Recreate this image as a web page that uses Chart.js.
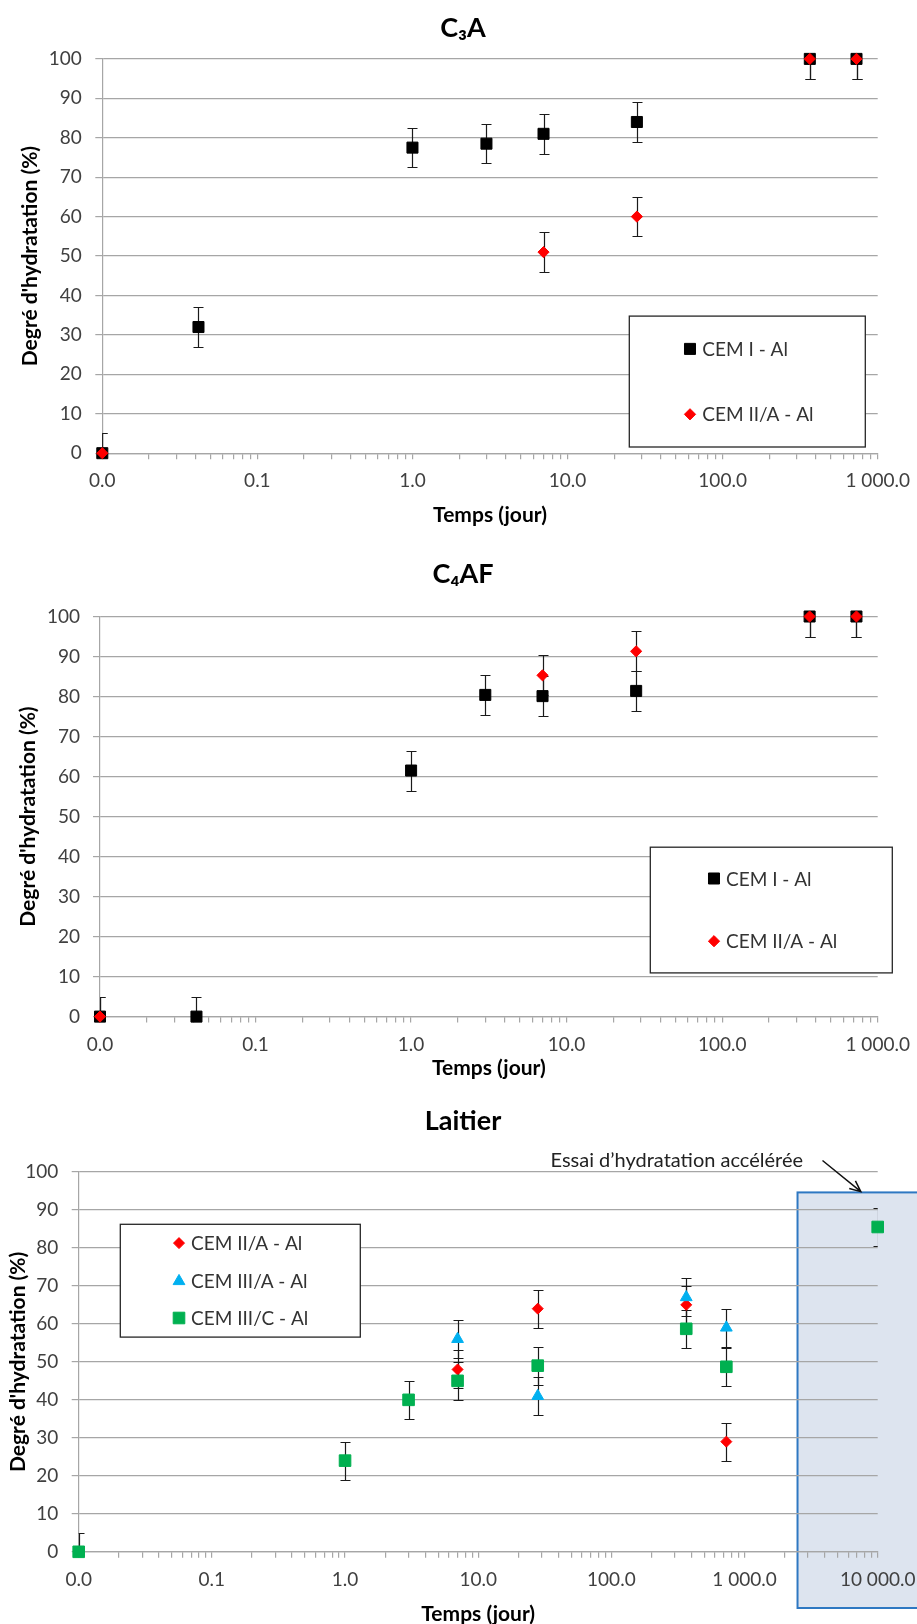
<!DOCTYPE html>
<html>
<head>
<meta charset="utf-8">
<script src="https://cdn.jsdelivr.net/npm/chart.js@4.4.1/dist/chart.umd.min.js"></script>
<style>
html, body { margin: 0; padding: 0; background: #ffffff; }
#wrap { position: relative; width: 917px; height: 1624px; overflow: hidden; background: #ffffff; }
#wrap canvas { position: absolute; left: 0; }
</style>
</head>
<body>
<div id="wrap">
  <canvas id="c1" width="917" height="540" style="top:0px"></canvas>
  <canvas id="c2" width="917" height="540" style="top:540px"></canvas>
  <canvas id="c3" width="917" height="544" style="top:1080px"></canvas>
</div>
<script>
// ---------------- DATA ----------------
const X_TICK_VALUES = [0.01, 0.1, 1, 10, 100, 1000];
const X_TICK_LABELS = ['0.0', '0.1', '1.0', '10.0', '100.0', '1 000.0'];
const X_TICK_VALUES_LAITIER = [0.01, 0.1, 1, 10, 100, 1000, 10000];
const X_TICK_LABELS_LAITIER = ['0.0', '0.1', '1.0', '10.0', '100.0', '1 000.0', '10 000.0'];
const Y_MIN = 0;
const Y_MAX = 100;
const Y_STEP = 10;

const TITLES = ['C\u2083A', 'C\u2084AF', 'Laitier'];
const X_TITLE = 'Temps (jour)';
const Y_TITLE = "Degré d'hydratation (%)";
const SERIES_NAMES = ['CEM I - Al', 'CEM II/A - Al', 'CEM III/A - Al', 'CEM III/C - Al'];
const CALLOUT_TEXT = 'Essai d\u2019hydratation accélérée';

// C3A
const c3aCem1Days = [0.01, 0.0417, 1, 3, 7, 28, 365, 730];
const c3aCem1Values = [0, 32, 77.5, 78.5, 81, 84, 100, 100];
const c3aCem1Errors = [5, 5, 5, 5, 5, 5, 5, 5];
const c3aCem2Days = [0.01, 7, 28, 365, 730];
const c3aCem2Values = [0, 51, 60, 100, 100];
const c3aCem2Errors = [5, 5, 5, 5, 5];

// C4AF
const c4afCem1Days = [0.01, 0.0417, 1, 3, 7, 28, 365, 730];
const c4afCem1Values = [0, 0, 61.5, 80.4, 80.1, 81.4, 100, 100];
const c4afCem1Errors = [5, 5, 5, 5, 5, 5, 5, 5];
const c4afCem2Days = [0.01, 7, 28, 365, 730];
const c4afCem2Values = [0, 85.3, 91.3, 100, 100];
const c4afCem2Errors = [5, 5, 5, 5, 5];

// Laitier
const laitCem2aDays = [7, 28, 365, 730];
const laitCem2aValues = [48, 64, 65, 29];
const laitCem2aErrors = [5, 5, 5, 5];
const laitCem3aDays = [7, 28, 365, 730];
const laitCem3aValues = [56, 41, 67, 59];
const laitCem3aErrors = [5, 5, 5, 5];
const laitCem3cDays = [0.01, 1, 3, 7, 28, 365, 730, 10000];
const laitCem3cValues = [0, 24, 40, 45, 49, 58.7, 48.7, 85.5];
const laitCem3cErrors = [5, 5, 5, 5, 5, 5, 5, 5];

// ---------------- STYLE ----------------
const FONT = "Lato, 'Open Sans', 'Liberation Sans', sans-serif";
const GRID = '#a6a6a6';
const TICK = '#404040';
const BLACK = '#000000';
const RED = '#ff0000';
const BLUE = '#00b0f0';
const GREEN = '#00b050';

function toXY(xs, ys) { return xs.map((x, i) => ({ x: x, y: ys[i] })); }

function logTickValues(min, max) {
  const out = [];
  const e0 = Math.round(Math.log10(min)), e1 = Math.round(Math.log10(max));
  for (let e = e0; e < e1; e++) {
    for (let m = 1; m <= 9; m++) out.push(Number((m * Math.pow(10, e)).toPrecision(6)));
  }
  out.push(max);
  return out;
}

function drawMarker(ctx, style, r, x, y, color) {
  ctx.save();
  ctx.fillStyle = color; ctx.strokeStyle = color; ctx.lineWidth = 1;
  ctx.beginPath();
  if (style === 'rect') {
    const s = r * Math.SQRT1_2;
    ctx.rect(x - s, y - s, 2 * s, 2 * s);
  } else if (style === 'rectRot') {
    ctx.moveTo(x - r, y); ctx.lineTo(x, y - r); ctx.lineTo(x + r, y); ctx.lineTo(x, y + r); ctx.closePath();
  } else if (style === 'triangle') {
    ctx.moveTo(x, y - r); ctx.lineTo(x + 0.866 * r, y + 0.5 * r); ctx.lineTo(x - 0.866 * r, y + 0.5 * r); ctx.closePath();
  }
  ctx.fill(); ctx.stroke();
  ctx.restore();
}

// error bars drawn through the chart's scales, clipped to the plot area
const errorBarPlugin = {
  id: 'errorBars',
  beforeDatasetsDraw(chart) {
    const ctx = chart.ctx, a = chart.chartArea, xs = chart.scales.x, ys = chart.scales.y;
    ctx.save();
    ctx.beginPath();
    ctx.rect(a.left, a.top, a.right - a.left, a.bottom - a.top);
    ctx.clip();
    ctx.strokeStyle = '#1a1a1a';
    ctx.lineWidth = 1.2;
    chart.data.datasets.forEach(ds => {
      if (!ds.errors) return;
      ds.data.forEach((p, i) => {
        const e = ds.errors[i];
        const px = Math.round(xs.getPixelForValue(p.x)) + 0.5;
        const yt = Math.round(ys.getPixelForValue(p.y + e)) + 0.5;
        const yb = Math.round(ys.getPixelForValue(p.y - e)) + 0.5;
        ctx.beginPath();
        ctx.moveTo(px, yt); ctx.lineTo(px, yb);
        ctx.moveTo(px - 5, yt); ctx.lineTo(px + 5, yt);
        ctx.moveTo(px - 5, yb); ctx.lineTo(px + 5, yb);
        ctx.stroke();
      });
    });
    ctx.restore();
  }
};

function boxLegend(cfg) {
  return {
    id: 'boxLegend',
    afterDraw(chart) {
      const ctx = chart.ctx;
      const b = cfg.box;
      ctx.save();
      ctx.fillStyle = '#ffffff';
      ctx.fillRect(b.x0, b.y0, b.x1 - b.x0, b.y1 - b.y0);
      ctx.strokeStyle = '#262626';
      ctx.lineWidth = 1.3;
      ctx.strokeRect(b.x0, b.y0, b.x1 - b.x0, b.y1 - b.y0);
      ctx.font = '19px ' + FONT;
      ctx.textAlign = 'left';
      ctx.textBaseline = 'middle';
      chart.data.datasets.forEach((ds, i) => {
        const yy = cfg.rows[i];
        drawMarker(ctx, ds.pointStyle, ds.pointRadius, cfg.markerX, yy, ds.backgroundColor);
        ctx.fillStyle = '#333333';
        ctx.fillText(ds.label, cfg.textX, yy + 1);
      });
      ctx.restore();
    }
  };
}

function callout(cfg) {
  return {
    id: 'callout',
    beforeDraw(chart) {
      const ctx = chart.ctx, xs = chart.scales.x, ys = chart.scales.y, a = chart.chartArea;
      const left = xs.getPixelForValue(cfg.boxFromX);
      const top = ys.getPixelForValue(cfg.boxTopY);
      const bottom = a.bottom + cfg.boxBelow;
      ctx.save();
      ctx.fillStyle = '#dde4ef';
      ctx.fillRect(left, top, chart.width - left + 10, bottom - top);
      ctx.strokeStyle = '#2e78c2';
      ctx.lineWidth = 2;
      ctx.strokeRect(left, top, chart.width - left + 10, bottom - top);
      ctx.restore();
    },
    afterDraw(chart) {
      const ctx = chart.ctx, xs = chart.scales.x, ys = chart.scales.y;
      ctx.save();
      ctx.font = '20px ' + FONT;
      ctx.fillStyle = '#222222';
      ctx.textAlign = 'center';
      ctx.textBaseline = 'middle';
      ctx.fillText(cfg.text, xs.getPixelForValue(cfg.textX), ys.getPixelForValue(cfg.textY));
      const x0 = xs.getPixelForValue(cfg.arrowFrom[0]), y0 = ys.getPixelForValue(cfg.arrowFrom[1]);
      const x1 = xs.getPixelForValue(cfg.arrowTo[0]), y1 = ys.getPixelForValue(cfg.arrowTo[1]);
      ctx.strokeStyle = '#111111';
      ctx.lineWidth = 1.5;
      ctx.beginPath();
      ctx.moveTo(x0, y0); ctx.lineTo(x1, y1);
      const ang = Math.atan2(y1 - y0, x1 - x0), hl = 12;
      ctx.moveTo(x1 - hl * Math.cos(ang - 0.42), y1 - hl * Math.sin(ang - 0.42));
      ctx.lineTo(x1, y1);
      ctx.lineTo(x1 - hl * Math.cos(ang + 0.42), y1 - hl * Math.sin(ang + 0.42));
      ctx.stroke();
      ctx.restore();
    }
  };
}

function makeChart(id, spec) {
  const tickVals = spec.xTickValues, tickLabels = spec.xTickLabels;
  const xMin = tickVals[0], xMax = tickVals[tickVals.length - 1];
  const L = spec.layout;
  return new Chart(document.getElementById(id), {
    type: 'scatter',
    data: { datasets: spec.datasets },
    options: {
      responsive: false,
      animation: false,
      devicePixelRatio: 1,
      events: [],
      layout: { padding: { left: L.padLeft, right: 0, top: 0, bottom: 0 } },
      plugins: {
        legend: { display: false },
        tooltip: { enabled: false },
        title: {
          display: true, text: spec.title, color: '#000000',
          font: { family: FONT, size: 27, weight: 'bold' },
          padding: { top: L.titleTop, bottom: L.titleBottom }
        }
      },
      scales: {
        x: {
          type: 'logarithmic', min: xMin, max: xMax,
          afterBuildTicks: (s) => { s.ticks = logTickValues(xMin, xMax).map(v => ({ value: v })); },
          afterFit: (s) => { s.height = L.xHeight; s.paddingLeft = 0; s.paddingRight = 0; },
          grid: { display: true, drawOnChartArea: false, drawTicks: true, tickLength: 6, color: GRID, lineWidth: 1.2 },
          border: { display: true, color: GRID, width: 1.2 },
          ticks: {
            autoSkip: false, maxRotation: 0, minRotation: 0, padding: L.xTickPad, color: TICK,
            font: { family: FONT, size: 19 },
            callback: (v) => {
              const i = tickVals.findIndex(t => Math.abs(Math.log10(t) - Math.log10(v)) < 1e-6);
              return i >= 0 ? tickLabels[i] : '';
            }
          },
          title: {
            display: true, text: X_TITLE, color: '#000000',
            font: { family: FONT, size: 21, weight: 'bold' },
            padding: { top: 0, bottom: L.xTitleBottom }
          }
        },
        y: {
          type: 'linear', min: Y_MIN, max: Y_MAX, position: 'left',
          afterFit: (s) => { s.width = L.yWidth; s.paddingTop = 0; s.paddingBottom = 0; },
          grid: { color: GRID, lineWidth: 1.2, tickLength: 7 },
          border: { display: true, color: GRID, width: 1.2 },
          ticks: { stepSize: Y_STEP, padding: L.yTickPad, color: TICK, font: { family: FONT, size: 19 } },
          title: {
            display: true, text: Y_TITLE, color: '#000000',
            font: { family: FONT, size: 21, weight: 'bold' },
            padding: { top: L.yTitleTop, bottom: 0 }
          }
        },
        // empty right-hand gutter (no ticks, no line) so the plot ends where the original does
        yGutter: {
          type: 'linear', position: 'right', display: true,
          grid: { display: false, drawTicks: false },
          border: { display: false },
          ticks: { display: false },
          afterFit: (s) => { s.width = L.rightGap; s.paddingTop = 0; s.paddingBottom = 0; }
        }
      }
    },
    plugins: [errorBarPlugin].concat(spec.extraPlugins || [])
  });
}

function ds(label, xs, ys, errs, style, radius, color, order) {
  return {
    label: label, data: toXY(xs, ys), errors: errs, xAxisID: 'x', yAxisID: 'y',
    pointStyle: style, pointRadius: radius, pointHoverRadius: radius, pointBorderWidth: 1,
    backgroundColor: color, borderColor: color, showLine: false, clip: false, order: order
  };
}

// ---------- Chart 1 : C3A ----------
makeChart('c1', {
  title: TITLES[0],
  xTickValues: X_TICK_VALUES, xTickLabels: X_TICK_LABELS,
  datasets: [
    ds(SERIES_NAMES[0], c3aCem1Days, c3aCem1Values, c3aCem1Errors, 'rect', 7.8, BLACK, 2),
    ds(SERIES_NAMES[1], c3aCem2Days, c3aCem2Values, c3aCem2Errors, 'rectRot', 5.6, RED, 1)
  ],
  layout: { padLeft: 9, rightGap: 39.3, yWidth: 93.3, xHeight: 86.8, titleTop: 12.1, titleBottom: 14.4,
            xTickPad: 9.8, yTickPad: 13.6, xTitleBottom: 12.5, yTitleTop: 9.1 },
  extraPlugins: [boxLegend({ box: { x0: 629.3, y0: 316.1, x1: 865.3, y1: 447.0 }, rows: [348.9, 414.3], markerX: 690, textX: 702.3 })]
});

// ---------- Chart 2 : C4AF ----------
makeChart('c2', {
  title: TITLES[1],
  xTickValues: X_TICK_VALUES, xTickLabels: X_TICK_LABELS,
  datasets: [
    ds(SERIES_NAMES[0], c4afCem1Days, c4afCem1Values, c4afCem1Errors, 'rect', 7.8, BLACK, 2),
    ds(SERIES_NAMES[1], c4afCem2Days, c4afCem2Values, c4afCem2Errors, 'rectRot', 5.6, RED, 1)
  ],
  layout: { padLeft: 9, rightGap: 39.3, yWidth: 91.0, xHeight: 63.4, titleTop: 18.2, titleBottom: 25.9,
            xTickPad: 11.2, yTickPad: 13.0, xTitleBottom: -1.2, yTitleTop: 6.7 },
  extraPlugins: [boxLegend({ box: { x0: 650.3, y0: 307.2, x1: 892.3, y1: 432.9 }, rows: [338.5, 401.2], markerX: 714, textX: 726 })]
});

// ---------- Chart 3 : Laitier ----------
makeChart('c3', {
  title: TITLES[2],
  xTickValues: X_TICK_VALUES_LAITIER, xTickLabels: X_TICK_LABELS_LAITIER,
  datasets: [
    ds(SERIES_NAMES[1], laitCem2aDays, laitCem2aValues, laitCem2aErrors, 'rectRot', 5.5, RED, 3),
    ds(SERIES_NAMES[2], laitCem3aDays, laitCem3aValues, laitCem3aErrors, 'triangle', 6.8, BLUE, 2),
    ds(SERIES_NAMES[3], laitCem3cDays, laitCem3cValues, laitCem3cErrors, 'rect', 8.2, GREEN, 1)
  ],
  layout: { padLeft: 9, rightGap: 39.3, yWidth: 69.7, xHeight: 72.2, titleTop: 25.4, titleBottom: 34.1,
            xTickPad: 10.6, yTickPad: 13.4, xTitleBottom: -2.9, yTitleTop: -3.3 },
  extraPlugins: [
    callout({ boxFromX: 2500, boxTopY: 94.6, boxBelow: 56.2, text: CALLOUT_TEXT, textX: 310, textY: 103,
              arrowFrom: [3850, 103], arrowTo: [7470, 94.8] }),
    boxLegend({ box: { x0: 120.3, y0: 144.3, x1: 360.3, y1: 257.1 }, rows: [163.1, 201.2, 238.0], markerX: 179, textX: 191 })
  ]
});
</script>
</body>
</html>
